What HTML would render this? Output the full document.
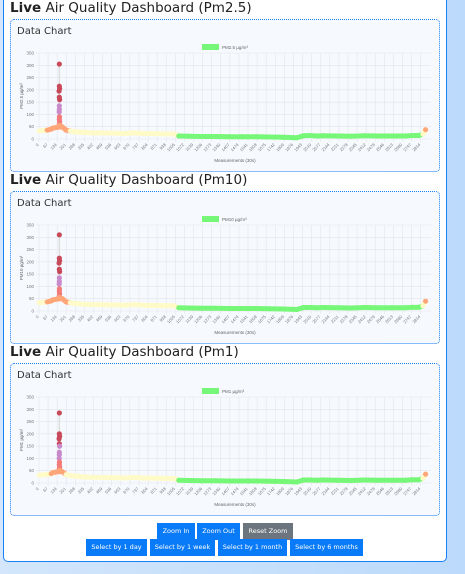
<!DOCTYPE html>
<html><head><meta charset="utf-8">
<style>
body{margin:0;width:465px;height:574px;overflow:hidden;background:linear-gradient(90deg,#d3e6fb,#bcdafb);font-family:"Liberation Sans","DejaVu Sans",sans-serif;position:relative}
#wrap{position:absolute;left:3px;top:-6px;width:442px;height:566px;background:#fff;border:1.5px solid #1a80f5;border-radius:5px}
h2{position:absolute;left:10px;margin:0;font-size:13.5px;font-weight:normal;color:#222;font-family:"DejaVu Sans",sans-serif;letter-spacing:0}
h2 b{font-weight:bold}
.box{position:absolute;left:10px;width:428px;height:151px;border:1px dotted #1a80f5;border-radius:4px;background:#f6f9fe}
.box .lbl{position:absolute;left:6px;top:6px;font-size:10px;color:#333;font-family:"DejaVu Sans",sans-serif}
.box svg{position:absolute;left:0;top:0}
.btn{position:absolute;height:17px;background:#0a7bf8;color:#fff;font-size:6.5px;line-height:17px;text-align:center;font-family:"DejaVu Sans",sans-serif}
</style></head><body>
<div id="wrap"></div>
<h2 style="top:0px"><b>Live</b> Air Quality Dashboard (Pm2.5)</h2>
<div class="box" style="top:19px" id="c1"><div class="lbl">Data Chart</div></div>
<h2 style="top:172px"><b>Live</b> Air Quality Dashboard (Pm10)</h2>
<div class="box" style="top:191px" id="c2"><div class="lbl">Data Chart</div></div>
<h2 style="top:344px"><b>Live</b> Air Quality Dashboard (Pm1)</h2>
<div class="box" style="top:363px" id="c3"><div class="lbl">Data Chart</div></div>
<div class="btn" style="left:157px;top:523px;width:38px">Zoom In</div>
<div class="btn" style="left:197px;top:523px;width:43px">Zoom Out</div>
<div class="btn" style="left:243px;top:523px;width:50px;background:#6c757d">Reset Zoom</div>
<div class="btn" style="left:86px;top:539px;width:61px">Select by 1 day</div>
<div class="btn" style="left:150px;top:539px;width:65px">Select by 1 week</div>
<div class="btn" style="left:218px;top:539px;width:69px">Select by 1 month</div>
<div class="btn" style="left:290px;top:539px;width:73px">Select by 6 months</div>
<script>
const yTicks=[0,50,100,150,200,250,300,350];
const xTickStep=67;
const xIdx=[0,30,60,90,100,120,140,170,200,230,260,300,350,400,450,500,550,600,650,700,750,800,850,900,950,1000,1030,1100,1200,1300,1400,1500,1600,1700,1800,1900,1950,2000,2050,2100,2200,2300,2400,2500,2600,2700,2750,2800,2830,2850];
const pm25=[33,34,36,40,44,46,48,50,36,33,30,28,26,25,25,24,24,23,23,25,23,22,22,21,21,20,12,11,10,10,9,9,9,8,7,5,13,14,12,13,12,11,13,12,12,12,14,14,20,38];
const pm10=[34,35,37,41,45,47,49,51,37,34,31,29,27,26,26,25,25,24,24,26,24,23,23,22,22,21,13,12,11,11,10,10,10,9,8,6,14,14,13,14,13,12,14,13,13,13,15,15,21,40];
const pm1=[32,33,35,38,42,44,46,47,34,31,28,26,24,23,23,22,22,21,21,23,21,20,20,19,19,18,11,10,9,9,8,8,8,7,6,4,12,12,11,12,11,10,12,11,11,11,13,13,19,36];
const spikeIdx=[150,150,152,148,150,152,150,150,149,151,150,152,150,151];
const spike25=[305,215,205,195,170,160,135,120,110,90,80,70,60,55];
const spike10=[310,215,205,195,170,160,135,120,110,90,80,70,60,55];
const spike1=[285,200,190,180,160,150,125,115,100,85,75,65,58,52];
const NS='http://www.w3.org/2000/svg';
function col(v){if(v<=15)return'#77f777';if(v<=35)return'#fffbc8';if(v<=55)return'#ffa678';if(v<=90)return'#f27a78';if(v<=150)return'#c98acb';return'#c84a5a';}
function mk(t,a,p){const e=document.createElementNS(NS,t);for(const k in a)e.setAttribute(k,a[k]);p.appendChild(e);return e;}
function draw(id,vals,sIdx,sVals,legend,ytitle){
 const box=document.getElementById(id);
 const svg=mk('svg',{width:430,height:153},box);
 const L=28,R=420,T=33,B=119,XMAX=2890,YMAX=350;
 const xs=i=>L+(i/XMAX)*(R-L), ys=v=>B-(v/YMAX)*(B-T);
 for(const t of yTicks){
  const g=mk('line',{x1:L-3,x2:R,y1:ys(t),y2:ys(t),stroke:'#e3e6ea','stroke-width':0.6},svg);
  
  const tx=mk('text',{x:L-5,y:ys(t)+1.5,'font-size':4.5,fill:'#777','text-anchor':'end'},svg);tx.textContent=t;
  
 }
 for(let i=0;i<=2814;i+=xTickStep){
  const x=xs(i);
  const g=mk('line',{x1:x,x2:x,y1:T,y2:B+3,stroke:'#e3e6ea','stroke-width':0.6},svg);
  
  const tx=mk('text',{x:x,y:B+6,'font-size':4.2,fill:'#777','text-anchor':'end',transform:`rotate(-45 ${x} ${B+6})`},svg);tx.textContent=i;
  
 }
 const yt=mk('text',{x:12,y:(T+B)/2,'font-size':4.5,fill:'#666','text-anchor':'middle',transform:`rotate(-90 12 ${(T+B)/2})`},svg);yt.textContent=ytitle;
 
 const xt=mk('text',{x:(L+R)/2,y:B+23,'font-size':4.5,fill:'#666','text-anchor':'middle'},svg);xt.textContent='Measurements (30s)';
 
 const lb=mk('rect',{x:191,y:24,width:17,height:6,fill:'#77f777'},svg);
 
 const lt=mk('text',{x:211,y:29,'font-size':4.5,fill:'#666'},svg);lt.textContent=legend;
 
 const sl=mk('line',{x1:xs(150),x2:xs(150),y1:ys(Math.max(...sVals)),y2:ys(50),stroke:'#ddd','stroke-width':1.5},svg);
 
 for(let k=0;k<xIdx.length-1;k++){
  const v=vals[k];
  const s=mk('line',{x1:xs(xIdx[k]),x2:xs(xIdx[k+1]),y1:ys(v),y2:ys(vals[k+1]),stroke:col(v),'stroke-width':5,'stroke-linecap':'round'},svg);
  
 }
 for(let k=0;k<sIdx.length;k++){
  const c=mk('circle',{cx:xs(sIdx[k]),cy:ys(sVals[k]),r:2.6,fill:col(sVals[k])},svg);
  
 }
 const lastI=xIdx.length-1;
 const e=mk('circle',{cx:xs(xIdx[lastI]),cy:ys(vals[lastI]),r:2.6,fill:col(vals[lastI])},svg);
 
}
draw('c1',pm25,spikeIdx,spike25,'PM2.5 µg/m³','PM2.5 µg/m³');
draw('c2',pm10,spikeIdx,spike10,'PM10 µg/m³','PM10 µg/m³');
draw('c3',pm1,spikeIdx,spike1,'PM1 µg/m³','PM1 µg/m³');
</script>
</body></html>
